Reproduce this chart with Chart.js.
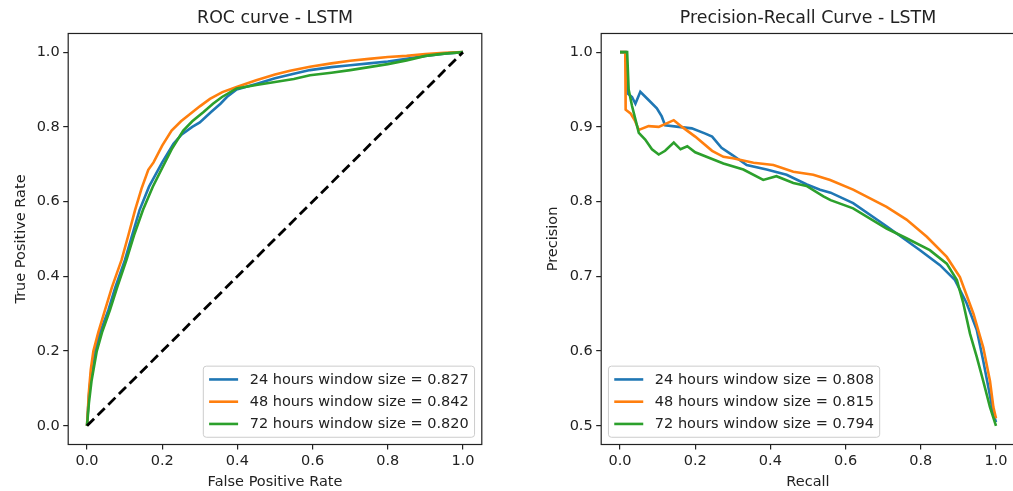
<!DOCTYPE html>
<html><head><meta charset="utf-8">
<script src="https://cdn.jsdelivr.net/npm/chart.js@4.4.1/dist/chart.umd.min.js"></script>
<style>
html,body{margin:0;padding:0;background:#fff;overflow:hidden;width:1013px;height:491px;}
#wl{position:absolute;left:0;top:0;width:500px;height:491px;}
#wr{position:absolute;left:510px;top:0;width:510px;height:491px;}
</style></head><body>
<div id="wl"><canvas id="roc"></canvas></div>
<div id="wr"><canvas id="pr"></canvas></div>
<script>
// ---------- data ----------
const rocLabels = ['24 hours window size = 0.827','48 hours window size = 0.842','72 hours window size = 0.820'];
const prLabels  = ['24 hours window size = 0.808','48 hours window size = 0.815','72 hours window size = 0.794'];
const colors = ['#1f77b4','#ff7f0e','#2ca02c'];

const rocFpr24 = [0,0.005,0.012,0.021,0.035,0.057,0.075,0.101,0.12,0.14,0.165,0.2,0.23,0.252,0.28,0.3,0.33,0.355,0.372,0.398,0.45,0.5,0.55,0.593,0.65,0.7,0.75,0.8,0.85,0.9,0.95,1];
const rocTpr24 = [0,0.08,0.15,0.2,0.25,0.31,0.37,0.444,0.51,0.578,0.64,0.705,0.755,0.78,0.8,0.812,0.84,0.862,0.88,0.9,0.915,0.93,0.942,0.952,0.96,0.965,0.97,0.975,0.982,0.99,0.996,1];
const rocFpr48 = [0,0.005,0.01,0.017,0.03,0.048,0.066,0.08,0.092,0.11,0.128,0.145,0.163,0.177,0.2,0.225,0.25,0.275,0.3,0.327,0.36,0.398,0.45,0.5,0.54,0.593,0.65,0.7,0.75,0.8,0.85,0.9,0.95,1];
const rocTpr48 = [0,0.09,0.15,0.2,0.25,0.31,0.37,0.41,0.444,0.51,0.578,0.635,0.685,0.705,0.75,0.79,0.815,0.835,0.855,0.875,0.893,0.907,0.925,0.94,0.95,0.961,0.97,0.977,0.982,0.987,0.99,0.995,0.998,1];
const rocFpr72 = [0,0.005,0.012,0.026,0.04,0.061,0.08,0.105,0.125,0.149,0.175,0.2,0.225,0.256,0.28,0.31,0.335,0.359,0.398,0.45,0.5,0.55,0.593,0.65,0.7,0.75,0.8,0.85,0.9,0.95,1];
const rocTpr72 = [0,0.06,0.12,0.2,0.25,0.31,0.37,0.444,0.51,0.578,0.64,0.69,0.74,0.79,0.815,0.84,0.862,0.88,0.903,0.912,0.92,0.928,0.938,0.945,0.952,0.96,0.968,0.978,0.99,0.996,1];
const diagX = [0,1];
const diagY = [0,1];

const prRec24 = [0,0.016,0.02,0.032,0.041,0.054,0.076,0.098,0.111,0.12,0.156,0.191,0.227,0.245,0.27,0.3,0.337,0.39,0.443,0.497,0.532,0.56,0.62,0.709,0.798,0.851,0.891,0.922,0.949,0.966,0.98,0.993,1];
const prPre24 = [1,1,0.945,0.94,0.931,0.947,0.936,0.925,0.914,0.902,0.9,0.898,0.891,0.887,0.872,0.862,0.849,0.843,0.836,0.823,0.816,0.812,0.798,0.767,0.735,0.715,0.695,0.664,0.628,0.587,0.551,0.516,0.505];
const prRec48 = [0,0.014,0.015,0.028,0.04,0.05,0.076,0.103,0.143,0.165,0.2,0.245,0.275,0.3,0.355,0.408,0.461,0.514,0.559,0.62,0.709,0.762,0.816,0.869,0.904,0.94,0.966,0.984,0.993,1];
const prPre48 = [1,1,0.923,0.918,0.908,0.896,0.901,0.9,0.909,0.9,0.887,0.868,0.86,0.858,0.852,0.849,0.84,0.836,0.829,0.816,0.793,0.776,0.753,0.726,0.699,0.65,0.605,0.56,0.525,0.51];
const prRec72 = [0,0.019,0.023,0.032,0.041,0.05,0.067,0.085,0.103,0.12,0.143,0.161,0.179,0.2,0.245,0.275,0.328,0.381,0.416,0.461,0.496,0.541,0.56,0.62,0.709,0.762,0.824,0.869,0.896,0.913,0.931,0.949,0.966,0.984,1];
const prPre72 = [1,1,0.95,0.928,0.91,0.892,0.883,0.87,0.863,0.868,0.879,0.87,0.874,0.866,0.857,0.851,0.843,0.829,0.834,0.825,0.821,0.807,0.802,0.791,0.764,0.751,0.735,0.717,0.695,0.664,0.623,0.592,0.56,0.525,0.5];

const xTicks = [0,0.2,0.4,0.6,0.8,1.0];
const rocYTicks = [0,0.2,0.4,0.6,0.8,1.0];
const prYTicks = [0.5,0.6,0.7,0.8,0.9,1.0];

// ---------- helpers ----------
const pts = (xs, ys) => xs.map((x, i) => ({x, y: ys[i]}));
const FONT = "'DejaVu Sans', sans-serif";
const FS = 14.5;
const INK = '#222222';
Chart.defaults.font.family = FONT;
Chart.defaults.color = INK;

const frame = {
  id: 'frame',
  afterDatasetsDraw(chart) {
    const {ctx, chartArea: a} = chart;
    ctx.save();
    ctx.strokeStyle = INK; ctx.lineWidth = 1.2;
    ctx.strokeRect(a.left, a.top, a.right - a.left, a.bottom - a.top);
    ctx.restore();
  }
};

const mplLegend = {
  id: 'mplLegend',
  afterDraw(chart, args, o) {
    const ctx = chart.ctx, ca = chart.chartArea;
    const fs = o.fontSize;
    ctx.save();
    ctx.font = fs + 'px ' + FONT;
    const items = chart.data.datasets.filter(d => d.label);
    const tw = Math.max(...items.map(d => ctx.measureText(d.label).width));
    const bp = 0.4 * fs, ls = 0.5 * fs, hl = 2 * fs, htp = 0.8 * fs, bap = 0.5 * fs, rh = o.rowHeight;
    const w = 2 * bp + hl + htp + tw;
    const h = 2 * bp + items.length * rh + (items.length - 1) * ls;
    const left = o.loc === 'lower right' ? ca.right - bap - w : ca.left + bap;
    const top = ca.bottom - bap - h;
    ctx.beginPath();
    ctx.roundRect(left, top, w, h, 3);
    ctx.fillStyle = 'rgba(255,255,255,0.8)';
    ctx.fill();
    ctx.strokeStyle = '#cccccc'; ctx.lineWidth = 1;
    ctx.stroke();
    items.forEach((d, i) => {
      const cy = top + bp + rh / 2 + i * (rh + ls);
      ctx.beginPath();
      ctx.strokeStyle = d.borderColor; ctx.lineWidth = d.borderWidth;
      ctx.moveTo(left + bp, cy); ctx.lineTo(left + bp + hl, cy);
      ctx.stroke();
      ctx.fillStyle = INK; ctx.textBaseline = 'middle'; ctx.textAlign = 'left';
      ctx.fillText(d.label, left + bp + hl + htp, cy + 0.5);
    });
    ctx.restore();
  }
};

function lineDs(label, data, color, order) {
  return {label, data, borderColor: color, backgroundColor: color, borderWidth: 2.6,
          pointRadius: 0, tension: 0, fill: false, order};
}

function axis(min, max, ticks, title, titlePad, fit, isX) {
  return {
    type: 'linear', min, max,
    afterBuildTicks: s => { s.ticks = ticks.map(v => ({value: v})); },
    afterFit: s => { if (isX) s.height = fit; else s.width = fit; },
    ticks: {callback: v => Number(v).toFixed(1), font: {size: FS}, color: INK, padding: 3.5,
            autoSkip: false, maxRotation: 0, includeBounds: false},
    grid: {drawOnChartArea: false, drawTicks: true, tickLength: 5, color: INK, lineWidth: 1.2},
    border: {display: false},
    title: {display: true, text: title, font: {size: FS}, color: INK, padding: titlePad}
  };
}

function makeChart(id, datasets, opts) {
  return new Chart(document.getElementById(id), {
    type: 'line',
    data: {datasets},
    options: {
      responsive: true, maintainAspectRatio: false, animation: false,
      layout: {padding: {left: 0, right: opts.padRight, top: 0, bottom: 0}},
      plugins: {
        legend: {display: false}, tooltip: {enabled: false},
        title: {display: true, text: opts.title, fullSize: false, color: INK,
                font: {size: 17.4, weight: 'normal'}, padding: {top: 8, bottom: 4.6}},
        mplLegend: {loc: opts.loc, fontSize: FS, rowHeight: 15}
      },
      scales: {
        x: axis(-0.05, 1.05, xTicks, opts.xTitle, {top: 0, bottom: 0}, 46.5, true),
        y: axis(opts.ymin, opts.ymax, opts.yTicks, opts.yTitle, {top: opts.yTitlePad, bottom: 0}, opts.yWidth, false)
      }
    },
    plugins: [frame, mplLegend]
  });
}

makeChart('roc', [
  lineDs(rocLabels[0], pts(rocFpr24, rocTpr24), colors[0], 3),
  lineDs(rocLabels[1], pts(rocFpr48, rocTpr48), colors[1], 2),
  lineDs(rocLabels[2], pts(rocFpr72, rocTpr72), colors[2], 1),
  {label: '', data: pts(diagX, diagY), borderColor: '#000000', borderWidth: 2.8, borderDash: [10, 5],
   pointRadius: 0, fill: false, order: 0}
], {title: 'ROC curve - LSTM', xTitle: 'False Positive Rate', yTitle: 'True Positive Rate',
    ymin: -0.05, ymax: 1.05, yTicks: rocYTicks, yTitlePad: 13, yWidth: 68.2, padRight: 18.2, loc: 'lower right'});

makeChart('pr', [
  lineDs(prLabels[0], pts(prRec24, prPre24), colors[0], 3),
  lineDs(prLabels[1], pts(prRec48, prPre48), colors[1], 2),
  lineDs(prLabels[2], pts(prRec72, prPre72), colors[2], 1)
], {title: 'Precision-Recall Curve - LSTM', xTitle: 'Recall', yTitle: 'Precision',
    ymin: 0.475, ymax: 1.025, yTicks: prYTicks, yTitlePad: 34.6, yWidth: 91.2, padRight: 5.2, loc: 'lower left'});
</script>
</body></html>
